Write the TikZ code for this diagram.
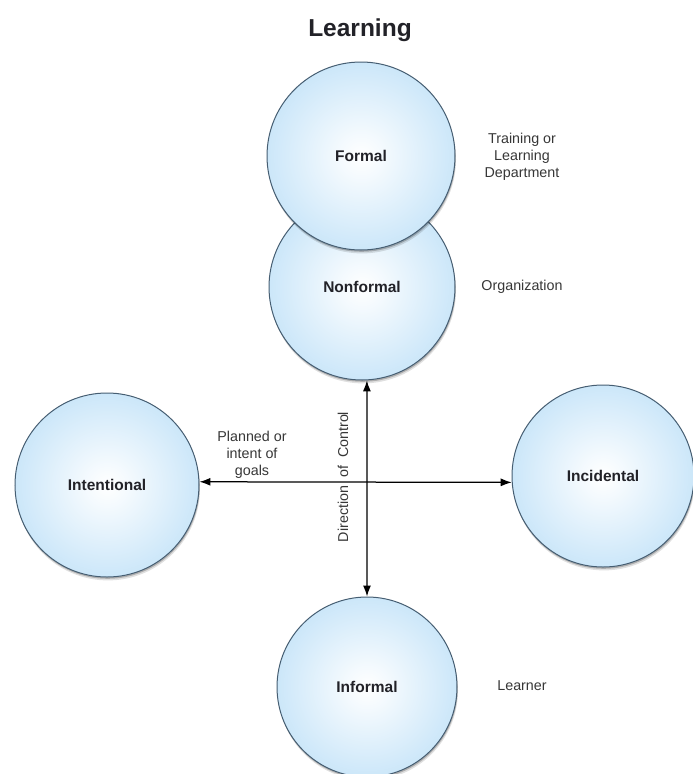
\documentclass[tikz,border=0pt]{standalone}
\usepackage{fontspec}
\setmainfont{Liberation Sans}
\usetikzlibrary{arrows.meta,shadows}
\definecolor{edgeblue}{RGB}{160,210,244}
\definecolor{rimcol}{RGB}{70,94,114}
\definecolor{labcol}{RGB}{34,34,40}
\definecolor{sidecol}{RGB}{55,55,55}
\pgfdeclareradialshading{ballshade}{\pgfpoint{0bp}{0bp}}{color(0bp)=(white); color(6bp)=(white!88!edgeblue); color(30bp)=(white!35!edgeblue); color(50bp)=(edgeblue); color(100bp)=(edgeblue)}
\tikzset{
  learnball/.style={circle, draw=rimcol, line width=1pt, shading=ballshade, inner sep=0pt,
    text=labcol, font=\bfseries\fontsize{15.5}{18}\selectfont,
    drop shadow={shadow xshift=0.6pt, shadow yshift=-1.8pt, opacity=0.22, fill=black},
    drop shadow={shadow xshift=1pt, shadow yshift=-3.4pt, opacity=0.12, fill=black}},
  sidelabel/.style={text=sidecol, font=\fontsize{14.3}{16.8}\selectfont, align=center, inner sep=1pt},
  conn/.style={line width=1.25pt, draw=black, {Latex[length=11pt,width=8pt]}-{Latex[length=11pt,width=8pt]}}
}
\begin{document}
\begin{tikzpicture}[x=1pt,y=-1pt]
\useasboundingbox[fill=white] (0,0) rectangle (693,774);
\node[font=\bfseries\fontsize{24.5}{28}\selectfont, text=labcol] (title) at (360,30) {Learning};
\node[learnball, minimum size=186pt] (nonformal) at (362,287) {Nonformal};
\node[learnball, minimum size=188pt] (formal) at (361,156) {Formal};
\node[learnball, minimum size=184pt] (intentional) at (107,485) {Intentional};
\node[learnball, minimum size=182pt] (incidental) at (603,476) {Incidental};
\node[learnball, minimum size=180pt] (informal) at (367,687) {Informal};
\node[sidelabel] (train) at (522,157) {Training or\\Learning\\Department};
\node[sidelabel] (org) at (522,287) {Organization};
\node[sidelabel] (learner) at (522,686) {Learner};
\node[sidelabel] (planned) at (252,455) {Planned or\\intent of\\goals};
\node[sidelabel, rotate=90] (dir) at (343,477) {Direction\ \ of\ \ Control};
\draw[conn] (intentional.2) -- (incidental.184);
\draw[conn] (nonformal.-87) -- (informal.north);
\end{tikzpicture}
\end{document}
